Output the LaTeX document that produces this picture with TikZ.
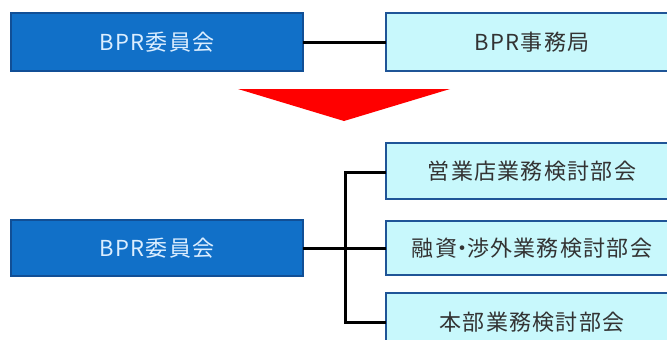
\documentclass[tikz,border=0pt]{standalone}
\usepackage{fontspec}
\newfontfamily\jp[LetterSpace=6]{Noto Sans CJK JP}
\definecolor{dblue}{HTML}{1170C8}
\definecolor{dborder}{HTML}{114F96}
\definecolor{lcyan}{HTML}{C8F8FC}
\definecolor{cborder}{HTML}{1F5597}
\definecolor{wtext}{HTML}{DCEEFF}
\definecolor{gtext}{HTML}{333333}
\begin{document}
\begin{tikzpicture}[x=1pt,y=-1pt,
  bluebox/.style={draw=dborder,line width=2pt,fill=dblue},
  cyanbox/.style={draw=cborder,line width=2pt,fill=lcyan},
  wlabel/.style={text=wtext,font=\jp\fontsize{22}{22}\selectfont},
  glabel/.style={text=gtext,font=\jp\fontsize{22}{22}\selectfont},
  conn/.style={line width=3pt,black}]
\useasboundingbox (0,0) rectangle (667,340);
\clip (0,0) rectangle (667,340);
% top row
\draw[bluebox] (11,13) rectangle (303,71);
\node[wlabel] (c1) at (157,42) {BPR委員会};
\draw[cyanbox] (386,13) rectangle (678,71);
\node[glabel] (s1) at (532,42) {BPR事務局};
\coordinate (c1e) at (303,42);
\coordinate (s1w) at (386,42);
\draw[conn] (c1e) -- (s1w);
% arrow
\fill[red] (238,89) coordinate (t1) -- (450,89) coordinate (t2) -- (344,121) coordinate (t3) -- cycle;
% bottom
\draw[bluebox] (11,220) rectangle (303,276);
\node[wlabel] (c2) at (157,248) {BPR委員会};
\draw[cyanbox] (386,143) rectangle (678,199);
\node[glabel] (b1) at (532,171) {営業店業務検討部会};
\draw[cyanbox] (386,221) rectangle (678,275);
\node[glabel] (b2) at (532,248) {融資\kern-6pt・\kern-6pt渉外業務検討部会};
\draw[cyanbox] (386,293) rectangle (678,360);
\node[glabel] (b3) at (532,322) {本部業務検討部会};
\coordinate (c2e) at (303,248);
\coordinate (j) at (345,248);
\coordinate (b1w) at (386,172);
\coordinate (b2w) at (386,248);
\coordinate (b3w) at (386,322);
\draw[conn] (c2e) -- (b2w);
\draw[conn] (b1w) -| (j) |- (b3w);
\end{tikzpicture}
\end{document}
